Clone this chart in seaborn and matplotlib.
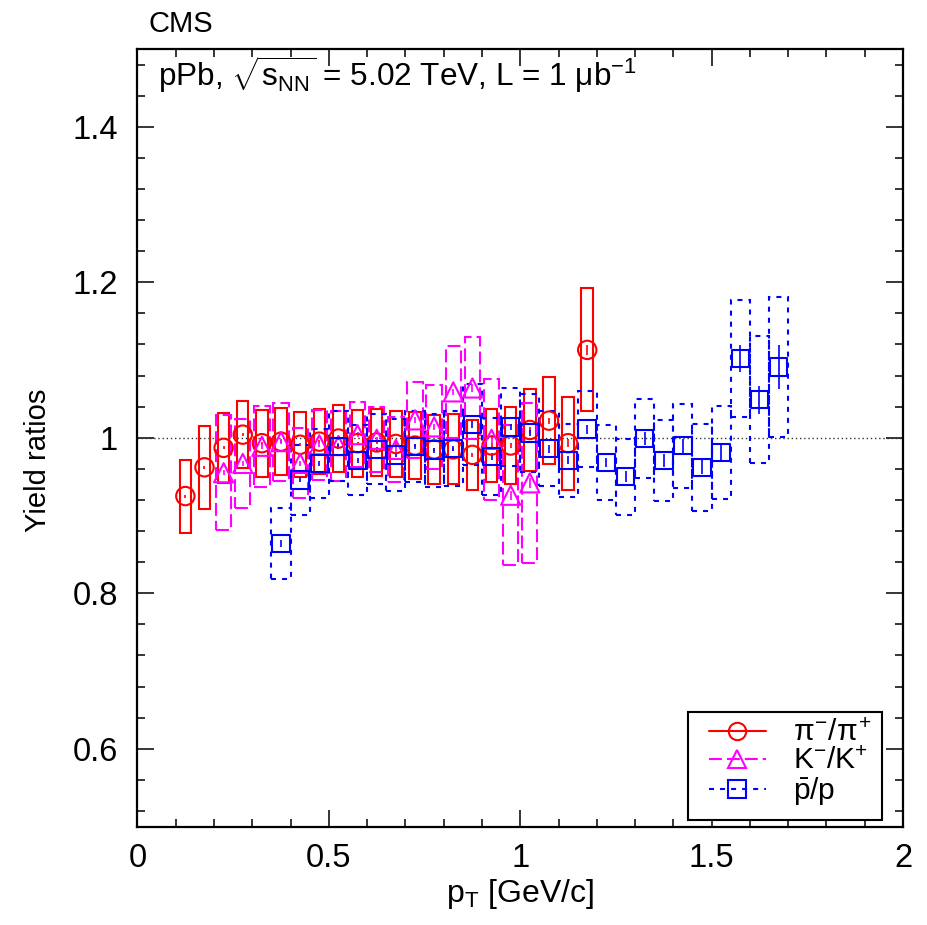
import numpy as np
import pandas as pd
import matplotlib
matplotlib.use("Agg")
import matplotlib.pyplot as plt
from matplotlib.lines import Line2D
from matplotlib.patches import Rectangle
import seaborn as sns

# ---------------- data ----------------
pt_pi = [0.125, 0.175, 0.225, 0.275, 0.325, 0.375, 0.425, 0.475, 0.525, 0.575, 0.625,
         0.675, 0.725, 0.775, 0.825, 0.875, 0.925, 0.975, 1.025, 1.075, 1.125, 1.175]
ratio_pi = [0.925, 0.962, 0.987, 1.004, 0.993, 0.995, 0.991, 0.995, 0.999, 0.993, 0.994,
            0.992, 0.990, 0.985, 0.985, 0.978, 0.990, 0.990, 1.010, 1.022, 0.993, 1.113]
sys_pi = [0.047, 0.053, 0.045, 0.043, 0.043, 0.043, 0.042, 0.042, 0.043, 0.043, 0.043,
          0.042, 0.043, 0.044, 0.045, 0.045, 0.047, 0.050, 0.053, 0.056, 0.060, 0.079]
stat_pi = [0.002, 0.002, 0.002, 0.002, 0.002, 0.002, 0.002, 0.002, 0.002, 0.002, 0.002,
           0.002, 0.002, 0.002, 0.002, 0.003, 0.003, 0.003, 0.004, 0.004, 0.005, 0.006]

pt_k = [0.225, 0.275, 0.325, 0.375, 0.425, 0.475, 0.525, 0.575, 0.625, 0.675, 0.725,
        0.775, 0.825, 0.875, 0.925, 0.975, 1.025]
ratio_k = [0.955, 0.967, 0.989, 0.995, 0.967, 0.991, 0.990, 1.004, 0.998, 0.985, 1.023,
           1.014, 1.059, 1.064, 0.998, 0.926, 0.942]
sys_k = [0.074, 0.057, 0.052, 0.050, 0.045, 0.045, 0.045, 0.042, 0.042, 0.042, 0.049,
         0.054, 0.059, 0.065, 0.078, 0.090, 0.103]
stat_k = [0.003, 0.003, 0.003, 0.003, 0.003, 0.003, 0.003, 0.003, 0.003, 0.003, 0.004,
          0.004, 0.004, 0.005, 0.005, 0.006, 0.006]

pt_p = [0.375, 0.425, 0.475, 0.525, 0.575, 0.625, 0.675, 0.725, 0.775, 0.825, 0.875,
        0.925, 0.975, 1.025, 1.075, 1.125, 1.175, 1.225, 1.275, 1.325, 1.375, 1.425,
        1.475, 1.525, 1.575, 1.625, 1.675]
ratio_p = [0.864, 0.946, 0.967, 0.989, 0.971, 0.985, 0.978, 0.989, 0.984, 0.986, 1.017,
           0.976, 1.014, 1.006, 0.986, 0.971, 1.011, 0.968, 0.950, 0.999, 0.971, 0.990,
           0.962, 0.981, 1.102, 1.049, 1.091]
sys_p = [0.046, 0.045, 0.044, 0.045, 0.045, 0.045, 0.046, 0.046, 0.047, 0.048, 0.052,
         0.050, 0.050, 0.050, 0.048, 0.047, 0.049, 0.048, 0.049, 0.051, 0.052, 0.054,
         0.056, 0.060, 0.075, 0.082, 0.090]
stat_p = [0.004, 0.003, 0.003, 0.003, 0.003, 0.003, 0.003, 0.003, 0.003, 0.003, 0.004,
          0.004, 0.004, 0.004, 0.005, 0.005, 0.006, 0.006, 0.007, 0.008, 0.008, 0.009,
          0.009, 0.010, 0.017, 0.018, 0.028]

labels = [r'$\pi^{-}/\pi^{+}$', r'$\mathrm{K}^{-}/\mathrm{K}^{+}$', r'$\bar{\mathrm{p}}/\mathrm{p}$']

# ---------------- style ----------------
sns.set_theme(style="ticks")
plt.rcParams['font.family'] = ['Liberation Sans', 'DejaVu Sans']
plt.rcParams['mathtext.fontset'] = 'custom'
plt.rcParams['mathtext.rm'] = 'Liberation Sans'
plt.rcParams['mathtext.it'] = 'Liberation Sans'
plt.rcParams['mathtext.bf'] = 'Liberation Sans:bold'
plt.rcParams['mathtext.sf'] = 'Liberation Sans'
for k in ['text.color', 'axes.labelcolor', 'xtick.color', 'ytick.color',
          'xtick.labelcolor', 'ytick.labelcolor', 'axes.edgecolor']:
    plt.rcParams[k] = 'black'

fig = plt.figure(figsize=(9.28, 9.25), dpi=100)
ax = fig.add_axes([137.5 / 928, 1 - 826.5 / 925, 765.5 / 928, 777.5 / 925])

LW = 1.5
styles = [
    dict(pt=pt_pi, y=ratio_pi, sys=sys_pi, stat=stat_pi, color='#ff0000', marker='o',
         ls='-', width=0.030, s=175),
    dict(pt=pt_k, y=ratio_k, sys=sys_k, stat=stat_k, color='#ff00ff', marker='^',
         ls=(0, (6.2, 2.4)), width=0.040, s=190),
    dict(pt=pt_p, y=ratio_p, sys=sys_p, stat=stat_p, color='#0000ff', marker='s',
         ls=(0, (2.4, 2.9)), width=0.050, s=160),
]

ax.axhline(1.0, color='#333333', lw=1.0, ls=(0, (1, 2)), zorder=1)

for st in styles:
    y = np.array(st['y'])
    sy = np.array(st['sys'])
    ax.bar(st['pt'], 2 * sy, bottom=y - sy, width=st['width'], fill=False,
           edgecolor=st['color'], linewidth=LW, linestyle=st['ls'], zorder=2)
    ax.errorbar(st['pt'], y, yerr=st['stat'], fmt='none', ecolor=st['color'],
                elinewidth=1.2, capsize=0, zorder=3)
    df = pd.DataFrame({'pt': st['pt'], 'ratio': st['y']})
    sns.scatterplot(data=df, x='pt', y='ratio', marker=st['marker'], s=st['s'],
                    facecolor='none', edgecolor=st['color'], linewidth=LW, ax=ax,
                    zorder=4, legend=False)

ax.set_xlim(0, 2)
ax.set_ylim(0.5, 1.5)
ax.set_xticks([0, 0.5, 1, 1.5, 2], labels=['0', '0.5', '1', '1.5', '2'])
ax.set_xticks(np.arange(0, 2.001, 0.1), minor=True)
ax.set_yticks([0.6, 0.8, 1.0, 1.2, 1.4], labels=['0.6', '0.8', '1', '1.2', '1.4'])
ax.set_yticks(np.arange(0.52, 1.49, 0.04), minor=True)
ax.tick_params(which='both', direction='in', top=True, right=True, width=1.1,
               color='black', labelcolor='black', labelsize=23.5)
ax.tick_params(which='major', length=12)
ax.tick_params(which='minor', length=6)
ax.tick_params(axis='y', pad=14)
ax.tick_params(axis='x', pad=12)
for sp in ax.spines.values():
    sp.set_linewidth(1.6)
    sp.set_color('black')

ax.set_xlabel(r'p$_{\mathrm{T}}$ [GeV/c]', fontsize=23)
ax.set_ylabel('Yield ratios', fontsize=21)
ax.xaxis.set_label_coords(0.5, -0.065)
ax.yaxis.set_label_coords(-0.112, 0.471)

fig.text(148 / 928, 1 - 31.7 / 925, 'CMS', fontsize=21, ha='left', va='baseline')
ax.text((158 - 137.5) / 765.5, (826.5 - 86) / 777.5,
        r'pPb, $\sqrt{\mathrm{s_{NN}}}$ = 5.02 TeV, L = 1 $\mu$b$^{-1}$',
        transform=ax.transAxes, fontsize=22.7, ha='left', va='baseline')

# legend frame (ROOT-like box)
ax.add_patch(Rectangle(((688 - 137.5) / 765.5, (826.5 - 820) / 777.5),
                       (882 - 688) / 765.5, (820 - 712) / 777.5,
                       transform=ax.transAxes, fill=True, facecolor='white',
                       edgecolor='black', linewidth=1.5, zorder=5))

handles = [Line2D([0], [0], color=st['color'], lw=LW, ls=st['ls'], marker=st['marker'],
                  markersize=12.5, markerfacecolor='none', markeredgecolor=st['color'],
                  markeredgewidth=LW) for st in styles]
leg = ax.legend(handles, labels, loc='upper left',
                bbox_to_anchor=((709 - 137.5) / 765.5, (826.5 - 719) / 777.5),
                fontsize=21.5, frameon=False, handlelength=1.9, handletextpad=0.9,
                borderpad=0.0, labelspacing=0.0, borderaxespad=0)
leg.set_zorder(6)
for t in leg.get_texts():
    t.set_color('black')

fig.savefig('out.png', dpi=100)
